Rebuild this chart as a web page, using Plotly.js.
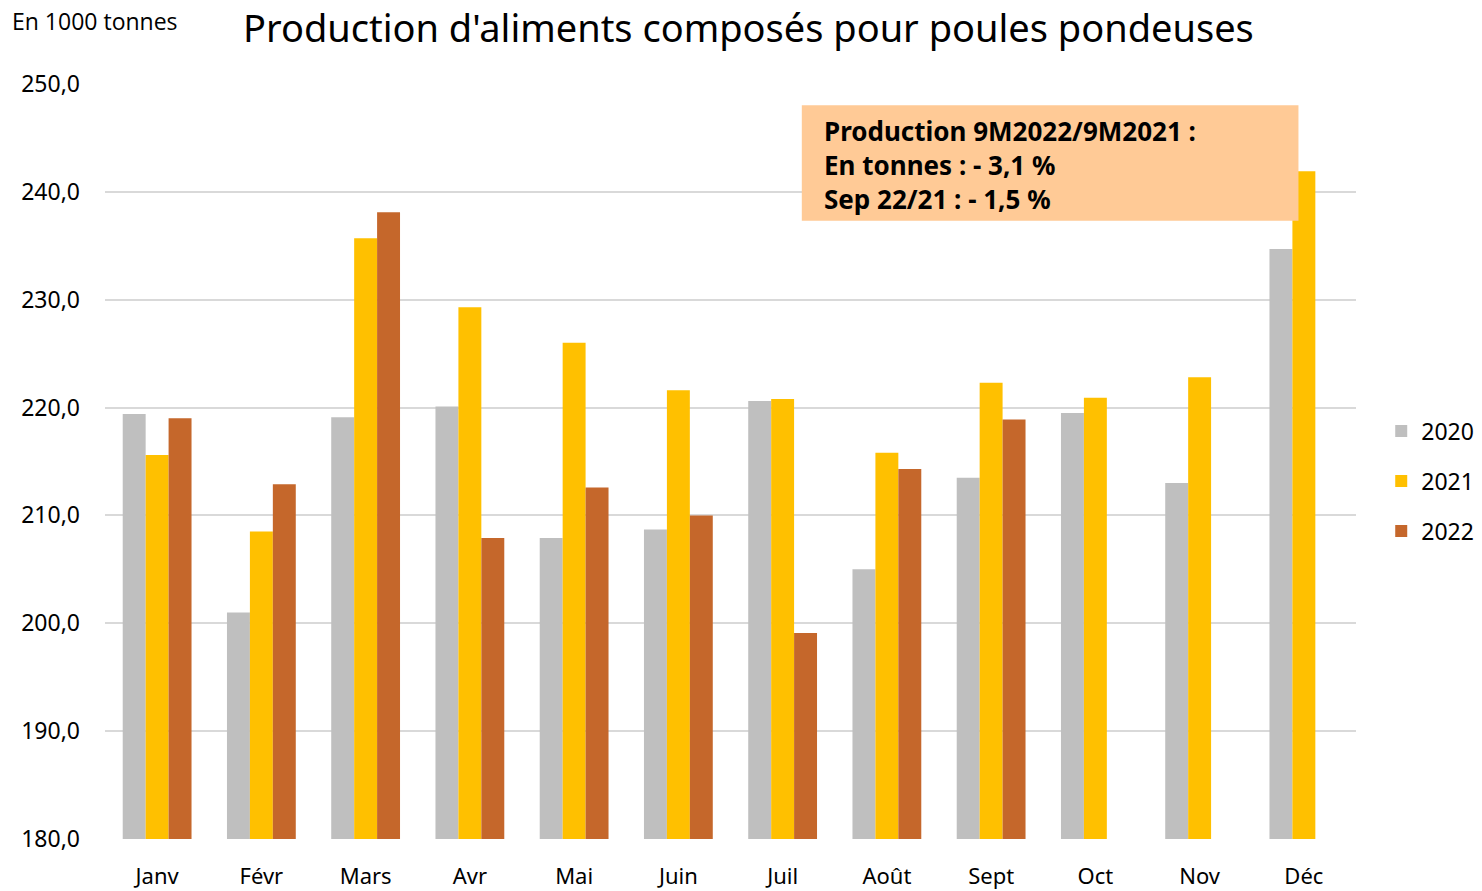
<!DOCTYPE html>
<html><head><meta charset="utf-8">
<script src="https://cdn.plot.ly/plotly-3.0.1.min.js"></script>
<style>body{margin:0;background:#fff}#c{width:1482px;height:891px}</style>
</head><body><div id="c"></div>
<script>
const months = ["Janv","Févr","Mars","Avr","Mai","Juin","Juil","Août","Sept","Oct","Nov","Déc"];
const v2020 = [219.4,201.0,219.1,220.1,207.9,208.7,220.6,205.0,213.5,219.5,213.0,234.7];
const v2021 = [215.6,208.5,235.7,229.3,226.0,221.6,220.8,215.8,222.3,220.9,222.8,241.9];
const v2022 = [219.0,212.9,238.1,207.9,212.6,210.0,199.1,214.3,218.9,null,null,null];
const yTicks = [180,190,200,210,220,230,240,250];

const F = "'Noto Sans', Lato, sans-serif";
const traces = [
  {type:"bar", name:"2020", legendgroup:"a", x:months, y:v2020, marker:{color:"#BFBFBF"}},
  {type:"bar", name:"2021", legendgroup:"b", x:months, y:v2021, marker:{color:"#FFC000"}},
  {type:"bar", name:"2022", legendgroup:"c", x:months, y:v2022, marker:{color:"#C5672B"}}
];
const layout = {
  width:1482, height:891,
  margin:{l:105, r:126, t:84, b:52},
  paper_bgcolor:"#fff", plot_bgcolor:"#fff",
  separators:", ",
  barmode:"group", bargap:0.34, bargroupgap:0,
  font:{family:F, color:"#000"},
  title:{text:"Production d'aliments composés pour poules pondeuses", x:0.505, xanchor:"center", y:0.968, yanchor:"middle", font:{size:38, family:F, color:"#000"}},
  xaxis:{type:"category", tickfont:{size:22, family:F}, ticks:"", showgrid:false, showline:false, ticklabelstandoff:22},
  yaxis:{range:[180,250], tickvals:yTicks, tickformat:".1f", tickfont:{size:23, family:F}, gridcolor:"#D9D9D9", gridwidth:1.5, zeroline:false, showline:false, ticks:"", ticklabelstandoff:24},
  legend:{xref:"container", yref:"container", x:0.932, xanchor:"left", y:0.46, yanchor:"middle", font:{size:23, family:F}, itemwidth:30, tracegroupgap:17, traceorder:"grouped"},
  shapes:[{type:"rect", xref:"paper", yref:"paper", x0:0.557, x1:0.954, y0:0.819, y1:0.972, fillcolor:"#FFCA96", line:{width:0}, layer:"above"}],
  annotations:[
    {xref:"paper", yref:"paper", x:0.573, y:0.893, xanchor:"left", yanchor:"middle", align:"left", showarrow:false,
     text:"<b>Production 9M2022/9M2021 :<br>En tonnes : - 3,1 %<br>Sep 22/21 : - 1,5 %</b>", font:{size:26, family:F, color:"#000"}},
    {xref:"paper", yref:"paper", x:-0.076, y:1.084, xanchor:"left", yanchor:"middle", showarrow:false,
     text:"En 1000 tonnes", font:{size:23, family:"'Open Sans', sans-serif", color:"#000"}}
  ]
};
Plotly.newPlot("c", traces, layout, {displayModeBar:false});
</script></body></html>
